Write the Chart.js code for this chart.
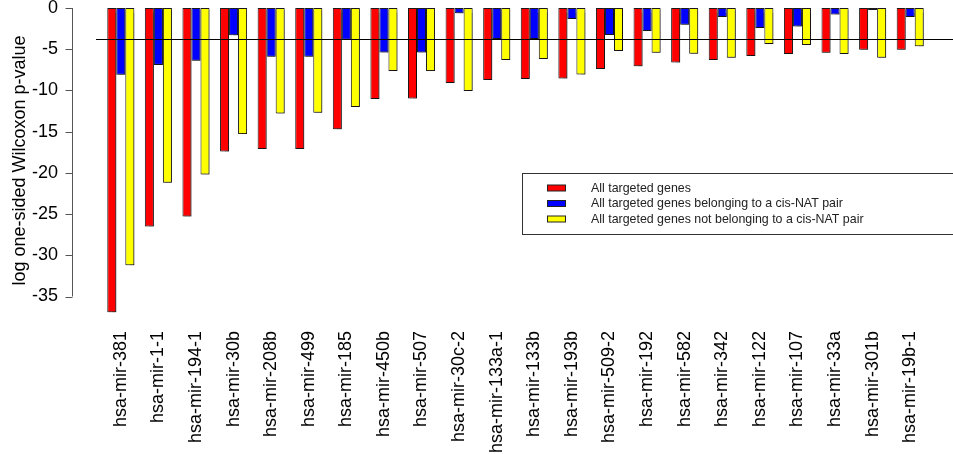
<!DOCTYPE html>
<html>
<head>
<meta charset="utf-8">
<script src="https://cdn.jsdelivr.net/npm/chart.js@4"></script>
<style>
  html, body { margin: 0; padding: 0; background: #ffffff; }
  #wrap { width: 953px; height: 454px; }
</style>
</head>
<body>
<div id="wrap"><canvas id="mirChart" width="953" height="454"></canvas></div>
<script>
// miRNA names on the x axis
var mirnas = [
  "hsa-mir-381", "hsa-mir-1-1", "hsa-mir-194-1", "hsa-mir-30b", "hsa-mir-208b",
  "hsa-mir-499", "hsa-mir-185", "hsa-mir-450b", "hsa-mir-507", "hsa-mir-30c-2",
  "hsa-mir-133a-1", "hsa-mir-133b", "hsa-mir-193b", "hsa-mir-509-2", "hsa-mir-192",
  "hsa-mir-582", "hsa-mir-342", "hsa-mir-122", "hsa-mir-107", "hsa-mir-33a",
  "hsa-mir-301b", "hsa-mir-19b-1"
];

// log p-values
var allTargeted = [
  -36.9, -26.5, -25.3, -17.4, -17.1, -17.1, -14.7, -11.05, -10.97, -9.1, -8.74,
  -8.6, -8.54, -7.4, -7.08, -6.6, -6.31, -5.83, -5.58, -5.42, -5.06, -5.06
];
var inCisNat = [
  -8.1, -6.9, -6.4, -3.3, -5.9, -5.9, -3.85, -5.4, -5.4, -0.65, -3.77,
  -3.77, -1.34, -3.28, -2.8, -2.03, -1.1, -2.43, -2.23, -0.78, -0.25, -1.1
];
var notInCisNat = [
  -31.2, -21.2, -20.2, -15.3, -12.8, -12.7, -12.0, -7.65, -7.65, -10.07, -6.3,
  -6.2, -8.06, -5.22, -5.42, -5.55, -6.03, -4.37, -4.49, -5.58, -6.03, -4.65
];

var seriesNames = [
  "All targeted genes",
  "All targeted genes belonging to a cis-NAT pair",
  "All targeted genes not belonging to a cis-NAT pair"
];
var seriesColors = ["#ff0000", "#0000ff", "#ffff00"];

var yTicks = [0, -5, -10, -15, -20, -25, -30, -35];
var cutoff = -3.73; // significance line

var ctx = document.getElementById("mirChart").getContext("2d");

// y axis drawn a bit left of the first bar, like R's barplot
var rAxis = {
  id: "rAxis",
  afterDraw: function (chart) {
    var y = chart.scales.y;
    var c = chart.ctx;
    var ax = chart.chartArea.left - 29.5;
    c.save();
    c.strokeStyle = "#555555";
    c.lineWidth = 1;
    c.beginPath();
    c.moveTo(ax, y.getPixelForValue(yTicks[0]));
    c.lineTo(ax, y.getPixelForValue(yTicks[yTicks.length - 1]));
    yTicks.forEach(function (t) {
      var py = Math.round(y.getPixelForValue(t)) + 0.5;
      c.moveTo(ax, py);
      c.lineTo(ax - 7, py);
    });
    c.stroke();

    // horizontal cutoff line
    var cy = Math.round(y.getPixelForValue(cutoff)) + 0.5;
    c.strokeStyle = "#000000";
    c.beginPath();
    c.moveTo(chart.chartArea.left - 6, cy);
    c.lineTo(chart.width, cy);
    c.stroke();
    c.restore();
  }
};

// boxed legend in the middle right
var boxLegend = {
  id: "boxLegend",
  afterDraw: function (chart) {
    var c = chart.ctx;
    c.save();
    c.fillStyle = "#ffffff";
    c.fillRect(522.5, 173.5, 440, 61);
    c.strokeStyle = "#333333";
    c.lineWidth = 1;
    c.strokeRect(522.5, 173.5, 440, 61);
    c.font = "12.4px 'Liberation Sans', Arial, sans-serif";
    c.textBaseline = "middle";
    seriesNames.forEach(function (name, i) {
      var ry = 188 + i * 15.5;
      c.fillStyle = seriesColors[i];
      c.fillRect(547.5, ry - 3, 18, 6);
      c.strokeStyle = "#222222";
      c.strokeRect(547.5, ry - 3, 18, 6);
      c.fillStyle = "#222222";
      c.fillText(name, 591, ry + 0.5);
    });
    c.restore();
  }
};

// soft grey shadow behind bars
var barShadow = {
  id: "barShadow",
  beforeDatasetsDraw: function (chart) {
    var c = chart.ctx;
    c.save();
    c.shadowColor = "rgba(0, 0, 0, 0.35)";
    c.shadowOffsetX = 1.5;
    c.shadowOffsetY = 1.5;
    c.shadowBlur = 1;
  },
  afterDatasetsDraw: function (chart) {
    chart.ctx.restore();
  }
};

var barCommon = {
  borderColor: "#1a1a1a",
  borderWidth: 1,
  borderSkipped: false,
  categoryPercentage: 0.72,
  barPercentage: 1.0
};

var myChart = new Chart(ctx, {
  type: "bar",
  data: {
    labels: mirnas,
    datasets: [
      Object.assign({ label: seriesNames[0], data: allTargeted, backgroundColor: seriesColors[0] }, barCommon),
      Object.assign({ label: seriesNames[1], data: inCisNat, backgroundColor: seriesColors[1] }, barCommon),
      Object.assign({ label: seriesNames[2], data: notInCisNat, backgroundColor: seriesColors[2] }, barCommon)
    ]
  },
  options: {
    responsive: false,
    animation: false,
    layout: { padding: { top: 8, right: 24, left: 0, bottom: 0 } },
    scales: {
      x: {
        grid: { display: false },
        border: { display: false },
        ticks: {
          color: "#000000",
          font: { family: "'Liberation Sans', Arial, sans-serif", size: 18 },
          minRotation: 90,
          maxRotation: 90,
          autoSkip: false,
          padding: 10
        },
        afterFit: function (scale) { scale.height = 141; }
      },
      y: {
        min: -37,
        max: 0,
        grid: { display: false, drawTicks: true, tickLength: 40 },
        border: { display: false },
        ticks: {
          stepSize: 5,
          color: "#000000",
          font: { family: "'Liberation Sans', Arial, sans-serif", size: 18 },
          padding: 4
        },
        afterBuildTicks: function (scale) {
          scale.ticks = yTicks.map(function (v) { return { value: v }; });
        },
        title: {
          display: true,
          text: "log one-sided Wilcoxon p-value",
          color: "#000000",
          font: { family: "'Liberation Sans', Arial, sans-serif", size: 18 },
          padding: { top: 9, bottom: 0 }
        },
        afterFit: function (scale) {
          scale.width = 102;
          scale.paddingTop = 0;
          scale.paddingBottom = 0;
        }
      }
    },
    plugins: {
      legend: { display: false },
      tooltip: { enabled: false }
    }
  },
  plugins: [barShadow, rAxis, boxLegend]
});
</script>
</body>
</html>
